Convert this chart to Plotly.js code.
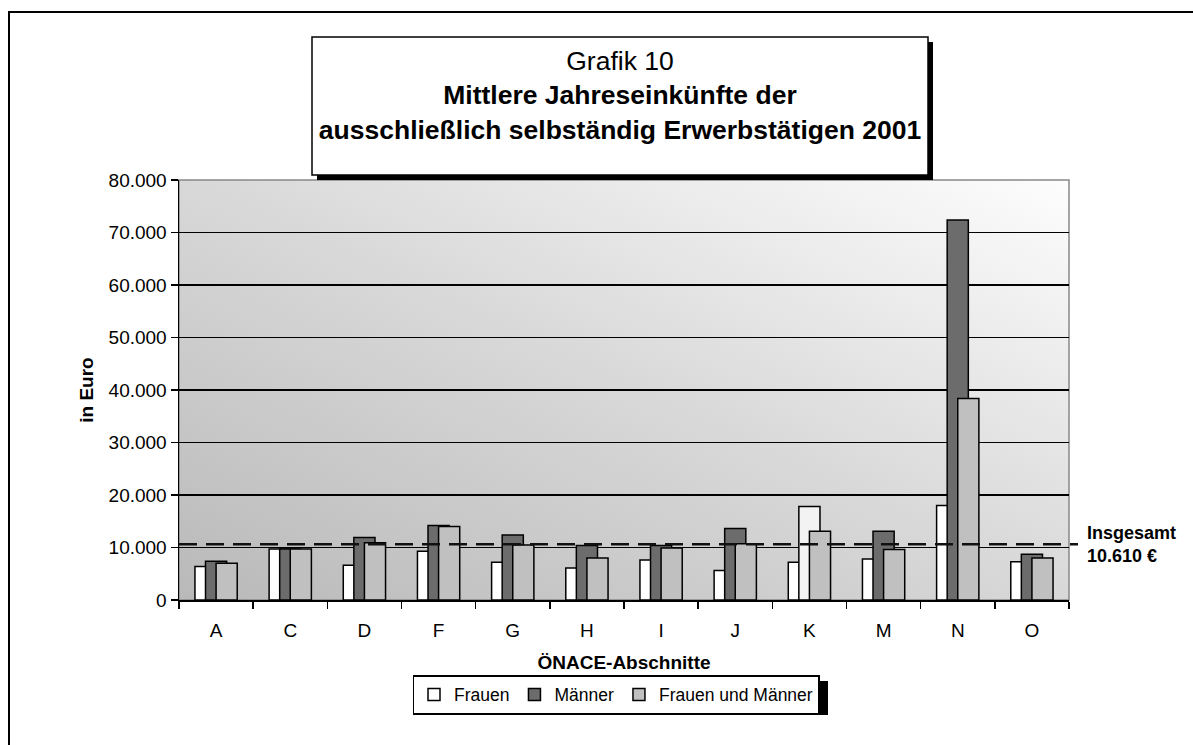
<!DOCTYPE html>
<html>
<head>
<meta charset="utf-8">
<script src="https://cdn.plot.ly/plotly-3.0.1.min.js"></script>
<style>
  html, body { margin: 0; padding: 0; background: #ffffff; overflow: hidden; }
  #wrap { position: relative; width: 1193px; height: 745px; overflow: hidden; }
  #chart { position: absolute; left: 0; top: 0; width: 1193px; height: 745px; }
  #frame { position: absolute; left: 8px; top: 11px; width: 1300px; height: 800px;
           border-top: 2.5px solid #000; border-left: 2.5px solid #000; pointer-events: none; }
</style>
</head>
<body>
<div id="wrap">
  <div id="chart"></div>
  <div id="frame"></div>
</div>
<script>
// ---- Data ----
const categories = ['A', 'C', 'D', 'F', 'G', 'H', 'I', 'J', 'K', 'M', 'N', 'O'];
const frauen      = [6400, 9700, 6600, 9300, 7200, 6100, 7600, 5600, 7200, 7800, 18000, 7300];
const maenner     = [7400, 9700, 11900, 14200, 12400, 10400, 10400, 13600, 17800, 13100, 72400, 8700];
const gesamt      = [7000, 9700, 10900, 14000, 10500, 8000, 9900, 10700, 13100, 9600, 38400, 8000];
const insgesamt   = 10610;
const seriesNames = ['Frauen', 'Männer', 'Frauen und Männer'];
const yTicks      = [0, 10000, 20000, 30000, 40000, 50000, 60000, 70000, 80000];

// ---- Layout geometry helpers ----
const W = 1193, H = 745;
const M = { l: 179, r: 124, t: 180, b: 145 };
const PW = W - M.l - M.r, PH = H - M.t - M.b;
const px = x => (x - M.l) / PW;          // pixel x -> paper x
const py = y => (M.t + PH - y) / PH;     // pixel y -> paper y

const barW = 0.285;
const lineStyle = { color: '#000000', width: 1.5 };

const traces = [
  {
    type: 'bar', name: seriesNames[0], x: categories, y: frauen,
    width: barW, offset: -barW,
    marker: { color: '#ffffff', line: lineStyle },
    hoverinfo: 'x+y+name'
  },
  {
    type: 'bar', name: seriesNames[1], x: categories, y: maenner,
    width: barW, offset: -barW / 2,
    marker: { color: categories.map(c => c === 'K' ? '#f3f3f3' : '#6c6c6c'), line: lineStyle },
    hoverinfo: 'x+y+name'
  },
  {
    type: 'bar', name: seriesNames[2], x: categories, y: gesamt,
    width: barW, offset: 0,
    marker: { color: '#c0c0c0', line: lineStyle },
    hoverinfo: 'x+y+name'
  }
];

const gradSvg =
  '<svg xmlns="http://www.w3.org/2000/svg" width="890" height="420" preserveAspectRatio="none" viewBox="0 0 890 420">' +
  '<defs><linearGradient id="g" x1="0" y1="1" x2="1" y2="0">' +
  '<stop offset="0" stop-color="#b9b9b9"/>' +
  '<stop offset="0.5" stop-color="#d8d8d8"/>' +
  '<stop offset="1" stop-color="#fdfdfd"/>' +
  '</linearGradient></defs>' +
  '<rect x="0" y="0" width="890" height="420" fill="url(#g)"/></svg>';
const gradUri = 'data:image/svg+xml;charset=utf-8,' + encodeURIComponent(gradSvg);

const font = 'Liberation Sans, Arial, sans-serif';
const insLabel = insgesamt.toLocaleString('de-DE');

const layout = {
  width: W, height: H,
  margin: M,
  paper_bgcolor: '#ffffff',
  plot_bgcolor: 'rgba(0,0,0,0)',
  separators: ',.',
  barmode: 'overlay',
  font: { family: font, color: '#000000', size: 19 },
  title: {
    text: 'Grafik 10<br><b>Mittlere Jahreseinkünfte der</b><br><b>ausschließlich selbständig Erwerbstätigen 2001</b>',
    font: { family: font, size: 26.5, color: '#000000' },
    x: 620 / W, xanchor: 'center', xref: 'container',
    y: 1 - 70 / H, yanchor: 'top', yref: 'container'
  },
  xaxis: {
    type: 'category',
    tickson: 'boundaries',
    ticks: 'outside', ticklen: 7, tickwidth: 1.5, tickcolor: '#000000',
    ticklabelstandoff: 12,
    showline: true, linecolor: '#000000', linewidth: 2,
    showgrid: false,
    tickfont: { family: font, size: 19 },
    title: { text: '<b>ÖNACE-Abschnitte</b>', font: { family: font, size: 19 }, standoff: 16 },
    range: [-0.5, categories.length - 0.5]
  },
  yaxis: {
    range: [0, 80000],
    tickvals: yTicks,
    tickformat: ',.0f',
    ticks: 'outside', ticklen: 7, tickwidth: 1.5, tickcolor: '#000000',
    showline: true, linecolor: '#000000', linewidth: 1.5,
    showgrid: true, gridcolor: '#000000', gridwidth: 1.5,
    zeroline: false,
    tickfont: { family: font, size: 19 },
    title: { text: '<b>in Euro</b>', font: { family: font, size: 19 }, standoff: 10 }
  },
  legend: {
    orientation: 'h',
    x: px(616), xanchor: 'center',
    y: py(675), yanchor: 'top',
    bgcolor: '#ffffff', bordercolor: '#000000', borderwidth: 1.5,
    font: { family: font, size: 17.5 },
    itemwidth: 30,
    traceorder: 'normal'
  },
  images: [{
    source: gradUri, xref: 'paper', yref: 'paper',
    x: 0, y: 1, sizex: 1, sizey: 1, sizing: 'stretch', layer: 'below'
  }],
  shapes: [
    // plot area border (grey)
    { type: 'rect', xref: 'paper', yref: 'paper', x0: 0, x1: 1, y0: 0, y1: 1,
      line: { color: '#888888', width: 1.5 }, fillcolor: 'rgba(0,0,0,0)', layer: 'below' },
    // title box shadow
    { type: 'rect', xref: 'paper', yref: 'paper', x0: px(317), x1: px(933), y0: py(180), y1: py(42),
      line: { width: 0 }, fillcolor: '#000000', layer: 'above' },
    // title box
    { type: 'rect', xref: 'paper', yref: 'paper', x0: px(312), x1: px(928), y0: py(175), y1: py(37),
      line: { color: '#000000', width: 1.5 }, fillcolor: '#ffffff', layer: 'above' },
    // legend shadow
    { type: 'rect', xref: 'paper', yref: 'paper', x0: px(413), x1: px(828), y0: py(715), y1: py(681),
      line: { width: 0 }, fillcolor: '#000000', layer: 'above' },
    // overall average line
    { type: 'line', xref: 'paper', yref: 'y', x0: 0, x1: px(1078), y0: insgesamt, y1: insgesamt,
      line: { color: '#111111', width: 2.5, dash: '18px,9px' }, layer: 'above' }
  ],
  annotations: [{
    xref: 'paper', yref: 'y', x: px(1085), y: insgesamt,
    xanchor: 'left', yanchor: 'middle', align: 'left', showarrow: false,
    text: '<b>Insgesamt<br>' + insLabel + ' €</b>',
    font: { family: font, size: 18, color: '#000000' }
  }]
};

Plotly.newPlot('chart', traces, layout, { displayModeBar: false, staticPlot: true });
</script>
</body>
</html>
